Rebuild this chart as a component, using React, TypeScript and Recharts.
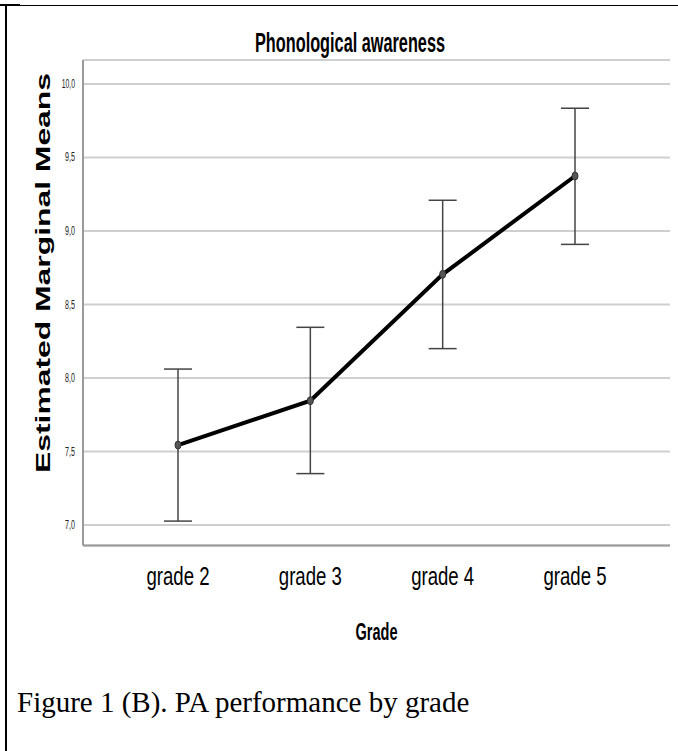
import React from "react";
import { LineChart, Line, XAxis, YAxis, CartesianGrid, ErrorBar } from "recharts";

const grades = ["grade 2", "grade 3", "grade 4", "grade 5"];
const means = [7.544, 7.846, 8.705, 9.374];
const lowerErr = [0.517, 0.496, 0.505, 0.465];
const upperErr = [0.517, 0.499, 0.504, 0.461];
const yTicks = [7, 7.5, 8, 8.5, 9, 9.5, 10];

const data = grades.map((g, i) => ({ grade: g, mean: means[i], ci: [lowerErr[i], upperErr[i]] }));

const narrow = "'Liberation Sans Narrow', 'Liberation Sans', Arial, sans-serif";

const XTick = ({ x, y, payload }: any) => (
  <text x={x} y={y + 31} textAnchor="middle" fontSize={26} fontFamily={narrow}
    textLength={63} lengthAdjust="spacingAndGlyphs" fill="#000">{payload.value}</text>
);

const YTick = ({ x, y, payload }: any) => {
  const s = payload.value.toFixed(1).replace(".", ",");
  return (
    <text x={x} y={y + 4} textAnchor="end" fontSize={12} fontFamily={narrow}
      textLength={s.length * 3.3} lengthAdjust="spacingAndGlyphs" fill="#222">{s}</text>
  );
};

const Dot = ({ cx, cy }: any) => <ellipse cx={cx} cy={cy} rx={3} ry={4} fill="#555" stroke="#333" strokeWidth={1} />;

export default function App() {
  return (
    <div style={{ position: "absolute", left: 0, top: 0, width: 678, height: 751, background: "#fff" }}>
      {/* table cell border */}
      <div style={{ position: "absolute", left: 0, top: 5, width: 678, height: 1, background: "#000" }} />
      <div style={{ position: "absolute", left: 0, top: 4, width: 20, height: 2, background: "#000" }} />
      <div style={{ position: "absolute", left: 5, top: 5, width: 2, height: 746, background: "#000" }} />

      <div style={{ position: "absolute", left: 0, top: 0 }}>
        <LineChart width={678} height={660} data={data} margin={{ top: 60, right: 8, left: 0, bottom: 0 }}>
          <text x={350} y={52} textAnchor="middle" fontSize={27} fontWeight="bold" fontFamily={narrow}
            textLength={190} lengthAdjust="spacingAndGlyphs" fill="#000">Phonological awareness</text>
          <CartesianGrid vertical={false} stroke="#cfcfcf" strokeWidth={2} />
          <XAxis dataKey="grade" height={114.5} padding={{ left: 95, right: 95 }}
            axisLine={{ stroke: "#9a9a9a", strokeWidth: 2 }} tickLine={false} tick={<XTick />}
            label={({ viewBox }: any) => (
              <text x={viewBox.x + viewBox.width / 2} y={viewBox.y + 94} textAnchor="middle" fontSize={23}
                fontWeight="bold" fontFamily={narrow} textLength={42} lengthAdjust="spacingAndGlyphs" fill="#000">Grade</text>
            )} />
          <YAxis width={83} type="number" domain={[6.861, 10.163]} ticks={yTicks} interval={0} allowDataOverflow
            axisLine={{ stroke: "#9a9a9a", strokeWidth: 2 }} tickLine={false} tick={<YTick />}
            label={({ viewBox }: any) => {
              const cx = 50, cy = viewBox.y + 213;
              return (
                <text x={cx} y={cy} transform={`rotate(-90 ${cx} ${cy})`} textAnchor="middle" fontSize={21}
                  fontWeight="bold" fontFamily="'Liberation Sans', Arial, sans-serif" textLength={400}
                  lengthAdjust="spacingAndGlyphs" fill="#000">Estimated Marginal Means</text>
              );
            }} />
          <Line dataKey="mean" stroke="#000" strokeWidth={4} dot={<Dot />} activeDot={false} isAnimationActive={false}>
            <ErrorBar dataKey="ci" direction="y" width={14} stroke="#444" strokeWidth={1.5} isAnimationActive={false} />
          </Line>
        </LineChart>
      </div>

      <div style={{ position: "absolute", left: 17, top: 688, fontFamily: "'Liberation Serif', 'Times New Roman', serif", fontSize: 29, lineHeight: 1, whiteSpace: "nowrap", color: "#000" }}>
        Figure 1 (B). PA performance by grade
      </div>
    </div>
  );
}
